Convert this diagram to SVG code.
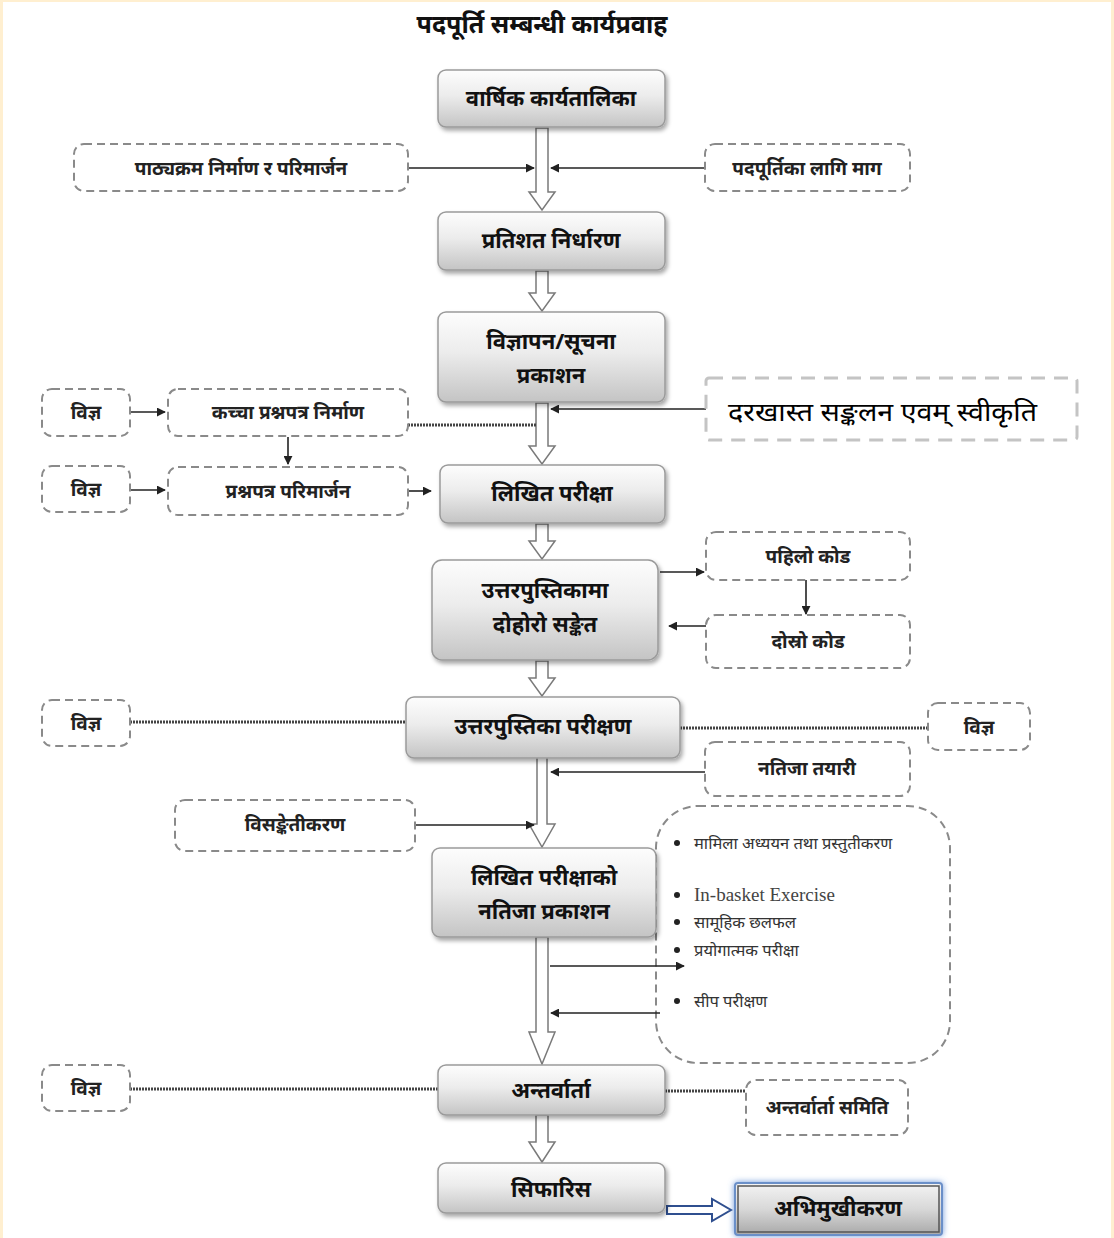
<svg xmlns="http://www.w3.org/2000/svg" width="1114" height="1238" viewBox="0 0 1114 1238">
<defs>
<linearGradient id="gBox" x1="0" y1="0" x2="0" y2="1">
<stop offset="0" stop-color="#fdfdfd"/>
<stop offset="0.45" stop-color="#ececec"/>
<stop offset="1" stop-color="#c4c4c4"/>
</linearGradient>
<linearGradient id="gBlue" x1="0" y1="0" x2="0" y2="1">
<stop offset="0" stop-color="#f4f4f4"/>
<stop offset="0.5" stop-color="#d8d8d8"/>
<stop offset="1" stop-color="#a8a8a8"/>
</linearGradient>
<filter id="shadow" x="-10%" y="-20%" width="125%" height="150%">
<feDropShadow dx="2" dy="3" stdDeviation="2" flood-color="#000" flood-opacity="0.35"/>
</filter>
<filter id="glow" x="-15%" y="-30%" width="130%" height="160%">
<feDropShadow dx="0" dy="0" stdDeviation="3" flood-color="#4a7fd0" flood-opacity="0.8"/>
</filter>
<marker id="ah" viewBox="0 0 10 10" refX="9" refY="5" markerWidth="9" markerHeight="9" markerUnits="userSpaceOnUse" orient="auto">
<path d="M0,0 L10,5 L0,10 z" fill="#222"/>
</marker>
</defs>
<style>
.main{fill:url(#gBox);stroke:#9a9a9a;stroke-width:1.5;filter:url(#shadow)}
.side{fill:#fff;stroke:#8a8a8a;stroke-width:2;stroke-dasharray:8 5}
.mt{font-family:"Noto Sans","Liberation Sans",sans-serif;font-weight:bold;font-size:22px;fill:#111;text-anchor:middle}
.st{font-family:"Noto Sans","Liberation Sans",sans-serif;font-weight:bold;font-size:19px;fill:#222;text-anchor:middle}
.bt{font-family:"Noto Sans","Liberation Sans",sans-serif;font-size:16.5px;fill:#333}
.hollow{fill:#fff;stroke:#7a7a7a;stroke-width:1.5}
.ln{stroke:#222;stroke-width:1.6;fill:none;marker-end:url(#ah)}
.dot{stroke:#444;stroke-width:3;stroke-dasharray:2 1;fill:none}
</style>

<rect x="0" y="0" width="1114" height="1238" fill="#ffefd0"/>
<rect x="3" y="2" width="1108" height="1236" fill="#fff"/>

<text x="542" y="33" class="mt" style="font-size:25px">पदपूर्ति सम्बन्धी कार्यप्रवाह</text>

<g id="n-tests">
<rect class="side" x="656" y="806" width="294" height="257" rx="42" style="fill:none"/>
<circle cx="677" cy="843" r="3" fill="#222"/><text class="bt" x="694" y="849">मामिला अध्ययन तथा प्रस्तुतीकरण</text>
<circle cx="677" cy="895" r="3" fill="#222"/><text x="694" y="901" style="font-family:'Liberation Serif',serif;font-size:19px;fill:#444">In-basket Exercise</text>
<circle cx="677" cy="922" r="3" fill="#222"/><text class="bt" x="694" y="928">सामूहिक छलफल</text>
<circle cx="677" cy="950" r="3" fill="#222"/><text class="bt" x="694" y="956">प्रयोगात्मक परीक्षा</text>
<circle cx="677" cy="1001" r="3" fill="#222"/><text class="bt" x="694" y="1007">सीप परीक्षण</text>
</g>

<g id="connectors">
<path class="hollow" d="M536,128 V192 H529 L542,210 L555,192 H548 V128 Z"/>
<path class="hollow" d="M536,271 V293 H529 L542,311 L555,293 H548 V271 Z"/>
<path class="hollow" d="M536,403 V446 H529 L542,464 L555,446 H548 V403 Z"/>
<path class="hollow" d="M536,524 V541 H529 L542,559 L555,541 H548 V524 Z"/>
<path class="hollow" d="M536,661 V678 H529 L542,696 L555,678 H548 V661 Z"/>
<path class="hollow" d="M537,752 V824 H529 L542,847 L555,824 H547 V752 Z"/>
<path class="hollow" d="M536,937 V1032 H529 L542,1064 L555,1032 H548 V937 Z"/>
<path class="hollow" d="M536,1115 V1142 H529 L542,1162 L555,1142 H548 V1115 Z"/>
<path d="M667,1206 H712 V1199 L731,1210 L712,1221 V1214 H667 Z" fill="#fff" stroke="#2f4f8f" stroke-width="2"/>

<path class="ln" d="M408,168 H534"/>
<path class="ln" d="M705,168 H551"/>
<path class="ln" d="M130,412 H165"/>
<path class="dot" d="M408,425 H536"/>
<path class="ln" d="M706,409 H551"/>
<path class="ln" d="M288,437 V464"/>
<path class="ln" d="M130,490 H165"/>
<path class="ln" d="M408,491 H431"/>
<path class="ln" d="M660,572 H704"/>
<path class="ln" d="M806,580 V614"/>
<path class="ln" d="M706,626 H669"/>
<path class="dot" d="M130,722 H406"/>
<path class="dot" d="M680,728 H928"/>
<path class="ln" d="M705,772 H551"/>
<path class="ln" d="M415,825 H534"/>
<path class="ln" d="M550,966 H684"/>
<path class="ln" d="M660,1013 H551"/>
<path class="dot" d="M130,1089 H438"/>
<path class="dot" d="M665,1091 H746"/>
</g>

<g id="n-annual"><rect class="main" x="438" y="70" width="227" height="57" rx="8"/><text class="mt" x="551" y="106">वार्षिक कार्यतालिका</text></g>
<g id="n-curriculum"><rect class="side" x="74" y="144" width="334" height="47" rx="10"/><text class="st" x="241" y="175">पाठ्यक्रम निर्माण र परिमार्जन</text></g>
<g id="n-demand"><rect class="side" x="705" y="144" width="205" height="47" rx="10"/><text class="st" x="807" y="175">पदपूर्तिका लागि माग</text></g>
<g id="n-percent"><rect class="main" x="438" y="212" width="227" height="58" rx="8"/><text class="mt" x="551" y="248">प्रतिशत निर्धारण</text></g>
<g id="n-advert"><rect class="main" x="438" y="312" width="227" height="90" rx="8"/><text class="mt" x="551" y="349">विज्ञापन/सूचना</text><text class="mt" x="551" y="383">प्रकाशन</text></g>
<g id="n-expert1"><rect class="side" x="42" y="389" width="88" height="47" rx="10"/><text class="st" x="86" y="419">विज्ञ</text></g>
<g id="n-draft"><rect class="side" x="168" y="389" width="240" height="47" rx="10"/><text class="st" x="288" y="419">कच्चा प्रश्नपत्र निर्माण</text></g>
<g id="n-application"><rect x="706" y="378" width="371" height="62" fill="#fff" stroke="#c4c4c4" stroke-width="3" stroke-dasharray="14 9" rx="3"/><text x="728" y="421" textLength="309" lengthAdjust="spacingAndGlyphs" style="font-family:'Noto Sans','Liberation Sans',sans-serif;font-size:25px;fill:#000">दरखास्त सङ्कलन एवम् स्वीकृति</text></g>
<g id="n-expert2"><rect class="side" x="42" y="466" width="88" height="46" rx="10"/><text class="st" x="86" y="496">विज्ञ</text></g>
<g id="n-revise"><rect class="side" x="168" y="467" width="240" height="48" rx="10"/><text class="st" x="288" y="498">प्रश्नपत्र परिमार्जन</text></g>
<g id="n-written"><rect class="main" x="440" y="465" width="225" height="58" rx="8"/><text class="mt" x="552" y="501">लिखित परीक्षा</text></g>
<g id="n-doublecode"><rect class="main" x="432" y="560" width="226" height="100" rx="10"/><text class="mt" x="545" y="598">उत्तरपुस्तिकामा</text><text class="mt" x="545" y="632">दोहोरो सङ्केत</text></g>
<g id="n-code1"><rect class="side" x="706" y="532" width="204" height="48" rx="10"/><text class="st" x="808" y="563">पहिलो कोड</text></g>
<g id="n-code2"><rect class="side" x="706" y="615" width="204" height="53" rx="10"/><text class="st" x="808" y="648">दोस्रो कोड</text></g>
<g id="n-expert3"><rect class="side" x="42" y="700" width="88" height="46" rx="10"/><text class="st" x="86" y="730">विज्ञ</text></g>
<g id="n-evaluate"><rect class="main" x="406" y="697" width="274" height="61" rx="8"/><text class="mt" x="543" y="734">उत्तरपुस्तिका परीक्षण</text></g>
<g id="n-expert4"><rect class="side" x="928" y="703" width="102" height="47" rx="10"/><text class="st" x="979" y="734">विज्ञ</text></g>
<g id="n-prepare"><rect class="side" x="705" y="742" width="205" height="54" rx="10"/><text class="st" x="807" y="775">नतिजा तयारी</text></g>
<g id="n-decode"><rect class="side" x="175" y="800" width="240" height="51" rx="10"/><text class="st" x="295" y="831">विसङ्केतीकरण</text></g>
<g id="n-result"><rect class="main" x="432" y="848" width="224" height="89" rx="8"/><text class="mt" x="544" y="885">लिखित परीक्षाको</text><text class="mt" x="544" y="919">नतिजा प्रकाशन</text></g>
<g id="n-expert5"><rect class="side" x="42" y="1065" width="88" height="46" rx="10"/><text class="st" x="86" y="1095">विज्ञ</text></g>
<g id="n-interview"><rect class="main" x="438" y="1065" width="227" height="50" rx="8"/><text class="mt" x="551" y="1098">अन्तर्वार्ता</text></g>
<g id="n-committee"><rect class="side" x="746" y="1080" width="162" height="55" rx="10"/><text class="st" x="827" y="1114">अन्तर्वार्ता समिति</text></g>
<g id="n-recommend"><rect class="main" x="438" y="1163" width="227" height="50" rx="8"/><text class="mt" x="551" y="1197">सिफारिस</text></g>
<g id="n-orientation"><rect x="735" y="1183" width="207" height="52" rx="3" fill="url(#gBlue)" stroke="#6b8fc8" stroke-width="2" filter="url(#glow)"/><rect x="738" y="1186" width="201" height="46" fill="none" stroke="#555" stroke-width="1.5"/><text class="mt" x="838" y="1216">अभिमुखीकरण</text></g>
</svg>
